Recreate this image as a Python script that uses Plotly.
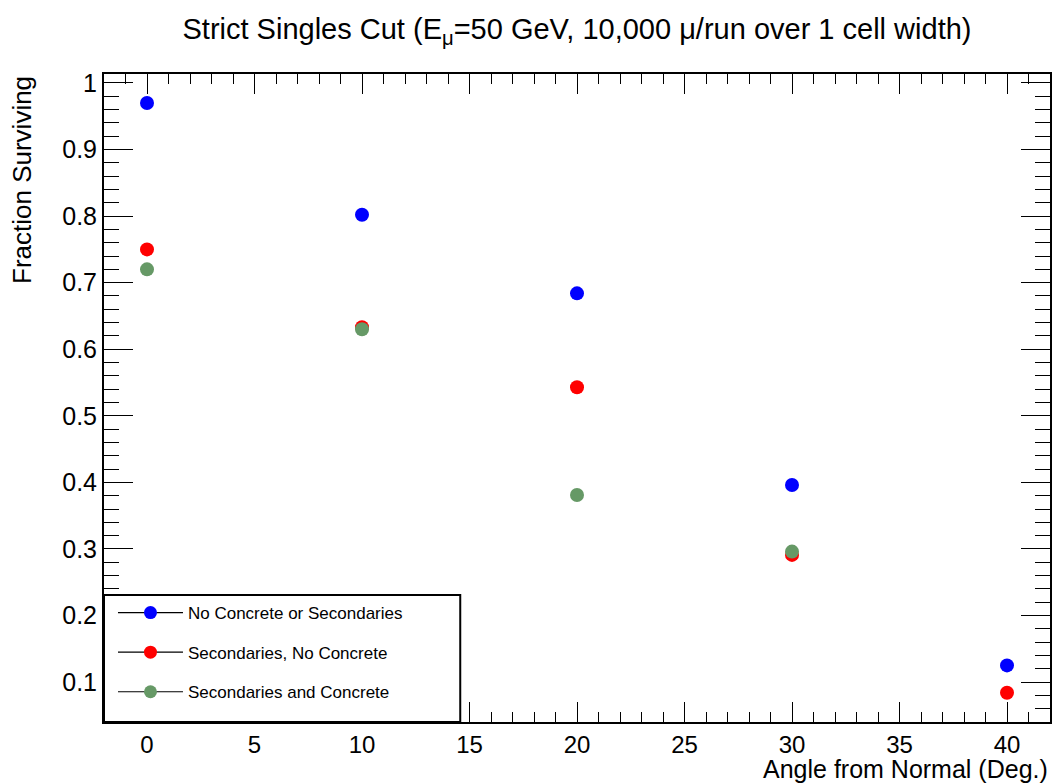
import plotly.graph_objects as go

# Survival fractions vs. incidence angle for three simulation configurations
angles = [0, 10, 20, 30, 40]
no_concrete_no_secondaries = [0.970, 0.802, 0.684, 0.396, 0.125]
secondaries_no_concrete = [0.750, 0.633, 0.543, 0.291, 0.084]
angles_green = [0, 10, 20, 30]
secondaries_and_concrete = [0.720, 0.630, 0.381, 0.296]

series_names = [
    "No Concrete or Secondaries",
    "Secondaries, No Concrete",
    "Secondaries and Concrete",
]
series_colors = ["#0000ff", "#ff0000", "#669966"]

y_ticks = [0.1, 0.2, 0.3, 0.4, 0.5, 0.6, 0.7, 0.8, 0.9, 1.0]
y_tick_text = ["0.1", "0.2", "0.3", "0.4", "0.5", "0.6", "0.7", "0.8", "0.9", "1"]

FONT = "Liberation Sans, Arial, Helvetica, sans-serif"

fig = go.Figure()

data = [
    (angles, no_concrete_no_secondaries),
    (angles, secondaries_no_concrete),
    (angles_green, secondaries_and_concrete),
]

for (xs, ys), name, color in zip(data, series_names, series_colors):
    fig.add_trace(go.Scatter(
        x=xs, y=ys, mode="markers", name=name, showlegend=False,
        marker=dict(color=color, size=14, line=dict(width=0)),
        cliponaxis=False,
    ))

# Legend entries drawn as line + marker, one group each for spacing
for i, (name, color) in enumerate(zip(series_names, series_colors)):
    fig.add_trace(go.Scatter(
        x=[None], y=[None], mode="lines+markers", name=name,
        legendgroup=f"g{i}",
        line=dict(color="black", width=1.2),
        marker=dict(color=color, size=13),
    ))

fig.update_layout(
    width=1055, height=783,
    margin=dict(l=104, r=3, t=74, b=61),
    paper_bgcolor="white", plot_bgcolor="white",
    font=dict(family=FONT, color="black"),
    title=dict(
        text="Strict Singles Cut (E<sub>μ</sub>=50 GeV, 10,000 μ/run over 1 cell width)",
        x=0.5, xref="paper", xanchor="center",
        y=1 - 29 / 783, yref="container", yanchor="middle",
        font=dict(size=29, family=FONT, color="black"),
    ),
    legend=dict(
        x=9 / 948, y=12 / 648, xanchor="left", yanchor="bottom",
        xref="paper", yref="paper",
        bgcolor="rgba(0,0,0,0)", borderwidth=0,
        font=dict(size=17, family=FONT),
        tracegroupgap=14.5,
        itemwidth=65,
    ),
    showlegend=True,
)

fig.update_xaxes(
    range=[-2, 42],
    tickmode="linear", tick0=0, dtick=5,
    ticks="inside", ticklen=20, tickwidth=1, tickcolor="black",
    minor=dict(ticks="inside", ticklen=10, dtick=1, tickwidth=1, tickcolor="black"),
    showline=True, linecolor="black", linewidth=2, mirror="allticks",
    showgrid=False, zeroline=False,
    tickfont=dict(size=24, family=FONT),
)
fig.update_yaxes(
    range=[0.04, 1.0135],
    tickmode="array", tickvals=y_ticks, ticktext=y_tick_text,
    ticks="inside", ticklen=29, tickwidth=1, tickcolor="black",
    minor=dict(ticks="inside", ticklen=15, dtick=0.02, tick0=0, tickwidth=1, tickcolor="black"),
    showline=True, linecolor="black", linewidth=2, mirror="allticks",
    showgrid=False, zeroline=False,
    tickfont=dict(size=25, family=FONT),
)

# Legend frame
fig.add_shape(
    type="rect", xref="paper", yref="paper",
    x0=0.0, x1=(461 - 104) / 948, y0=0.0, y1=(722 - 595) / 648,
    line=dict(color="black", width=2), fillcolor="white", layer="above",
)

# Axis titles (ROOT style: right-aligned x title, top-aligned y title)
fig.add_annotation(
    text="Angle from Normal (Deg.)", xref="paper", yref="paper",
    x=1, y=0, xanchor="right", yanchor="top", yshift=-31,
    showarrow=False, font=dict(size=25, family=FONT),
)
fig.add_annotation(
    text="Fraction Surviving", xref="paper", yref="paper",
    x=0, y=1, xanchor="center", yanchor="top", xshift=-82,
    textangle=-90, showarrow=False, font=dict(size=26, family=FONT),
)

fig.write_html("out.html")
